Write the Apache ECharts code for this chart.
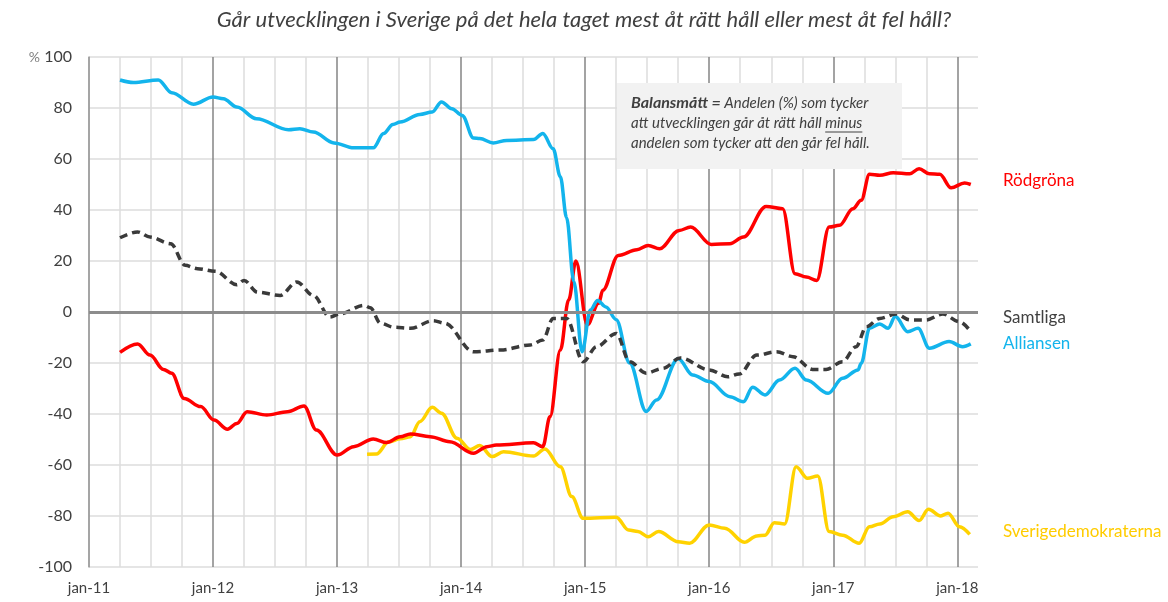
<!DOCTYPE html>
<html>
<head>
<meta charset="utf-8">
<script src="https://cdn.jsdelivr.net/npm/echarts@6/dist/echarts.min.js"></script>
<style>
  html, body { margin: 0; padding: 0; background: #fff; }
  #chart { width: 1168px; height: 602px; }
</style>
</head>
<body>
<div id="chart"></div>
<script>
// x = months since jan-11, y = balansmått (%)
const yearLabels = ['jan-11', 'jan-12', 'jan-13', 'jan-14', 'jan-15', 'jan-16', 'jan-17', 'jan-18']

const rodgrona = [[3,-15.8],[4.7,-12.5],[5.9,-16.9],[7.2,-22.5],[8,-24],[9.2,-33.9],[10.8,-37.1],[12.1,-42.4],[13.4,-46],[14.3,-43.7],[15.3,-39.1],[17.2,-40.4],[19.2,-39.1],[20.8,-36.9],[22,-46.3],[24,-56.1],[25.6,-52.8],[27.5,-49.8],[28.8,-51.2],[30.1,-48.9],[31.1,-47.8],[33,-48.9],[34.9,-50.9],[37.2,-55.4],[38.5,-52.8],[39.4,-52.2],[43,-51.3],[43.9,-52.8],[44.6,-41],[45.6,-14.9],[46.4,4.7],[47.1,20],[48.2,-5],[49.3,3.4],[49.7,8.5],[51.2,22.2],[53,24.4],[54.1,26.1],[55.2,24.8],[57.1,32],[58.2,33.3],[60.2,26.5],[62,26.8],[63.3,29.4],[65.5,41.4],[67.1,40.5],[68.3,15],[69.4,13.7],[70.4,12.4],[71.6,33.3],[72.6,34],[73.9,40.5],[74.7,43.8],[75.5,54],[76.5,53.6],[77.8,54.6],[79.4,54.2],[80.3,56.2],[81.3,54.2],[82.3,54],[83.4,48.7],[84.7,50.6],[85.3,50]]

const samtliga = [[3,29.1],[4.7,31.4],[5.9,29.4],[7.9,26.8],[9.3,18.3],[10.5,17],[12.2,16],[14.3,10.7],[15,12.4],[16.3,7.8],[18.5,6.5],[20.1,11.8],[21.7,6.5],[23.3,-2],[24.3,-0.7],[26.6,2.6],[27.2,1.7],[28.2,-4.4],[29.5,-6],[31.1,-6.4],[33.3,-3.4],[34.4,-4.4],[37.2,-15.6],[39.8,-14.9],[42.7,-12.9],[43.9,-11],[44.9,-2.5],[46.2,-2.5],[47.8,-19.5],[49.1,-13.6],[51,-8.4],[52.3,-19.5],[53.9,-24],[55.5,-22.1],[57.2,-18],[60,-22.7],[61.8,-25.4],[62.9,-24.3],[64.6,-16.9],[66.5,-15.6],[68.1,-17.5],[70,-22.5],[71.3,-22.5],[72.9,-19.5],[74.2,-13.6],[75.2,-5.8],[76.5,-2.5],[78.1,-0.8],[79.4,-3.1],[81,-3.1],[82.6,-0.8],[84.2,-3.8],[85.3,-7.7]]

const alliansen = [[3,91],[4.3,90],[6.7,91],[8,86],[10.1,81.5],[12,84.3],[13,83.6],[14.3,80.4],[16.2,75.8],[19.3,71.5],[20.4,71.9],[21.7,70.6],[23.7,66.3],[25.6,64.4],[27.5,64.4],[28.5,70],[29.4,73.5],[30.1,74.5],[32,77.5],[33.2,78.4],[34.1,82.4],[35.1,79.7],[36.1,77.1],[37.2,68.2],[37.8,68],[39.1,66.3],[40.4,67.3],[43,67.6],[43.9,70],[44.9,64],[45.6,53],[46.2,37],[46.9,12],[47.7,-15.6],[48.5,0.8],[49.2,4.5],[50,2],[51,-3],[52.3,-20],[53.9,-39],[54.9,-34.5],[57,-18.3],[58.4,-24.7],[60,-27.3],[62,-33.2],[63.3,-35.2],[64.2,-29.5],[65.4,-32.5],[66.8,-26.7],[68.3,-22.1],[69.4,-26.7],[71.5,-31.9],[72.9,-26],[74.4,-22.7],[74.7,-20.1],[75.5,-6.4],[76.5,-4.7],[77.3,-6.4],[78,-1.8],[79.2,-7.7],[80.2,-6.4],[81.3,-14.2],[83.2,-11.6],[84.5,-13.6],[85.3,-12.5]]

const sverigedemokraterna = [[26.9,-55.8],[27.8,-55.7],[29,-50.9],[30.1,-49.7],[31.1,-48.9],[32,-43],[33.2,-37.4],[34.1,-39.7],[35.6,-49.5],[36.9,-53.9],[37.8,-52.4],[39,-56.7],[40.1,-54.8],[43,-56.5],[44.1,-53.7],[45.6,-60.7],[46.7,-72.4],[47.8,-80.9],[51,-80.5],[52.2,-85.5],[53.1,-86.1],[54.1,-88.1],[55.1,-86.1],[57,-90.1],[58.1,-90.7],[60,-83.5],[61.5,-84.8],[63.4,-90.3],[64.6,-87.8],[65.4,-87.5],[66.3,-82.6],[67.3,-83.1],[68.4,-60.7],[69.5,-65.2],[70.5,-64.3],[71.6,-86.1],[72.9,-87.5],[74.5,-90.7],[75.5,-84.2],[76.5,-83.1],[77.8,-80.3],[79.2,-78.3],[80.3,-81.8],[81.2,-77.4],[82.4,-80],[83.1,-78.9],[84.2,-84.2],[85.2,-87.2]]

const font = 'Lato'
const textColor = '#404040'
const noteFont = 'italic 15px ' + font

// measure note text so "minus" can be underlined
const ctx = document.createElement('canvas').getContext('2d')
ctx.font = noteFont
const line2a = 'att utvecklingen går åt rätt håll '
const w2a = ctx.measureText(line2a).width
const wMinus = ctx.measureText('minus').width

const noteX = 631

function line(data, color, dashed) {
  return {
    type: 'line',
    data: data,
    showSymbol: false,
    smooth: 0.35,
    smoothMonotone: 'x',
    silent: true,
    lineStyle: {
      color: color,
      width: 3.5,
      type: dashed ? [8, 5] : 'solid'
    }
  }
}

const chart = echarts.init(document.getElementById('chart'))

const option = {
  animation: false,
  backgroundColor: '#fff',
  textStyle: { fontFamily: font },
  title: {
    text: 'Går utvecklingen i Sverige på det hela taget mest åt rätt håll eller mest åt fel håll?',
    left: 'center',
    top: 4,
    textStyle: { fontFamily: font, fontStyle: 'italic', fontWeight: 'normal', fontSize: 22, color: textColor }
  },
  grid: { left: 89, right: 190, top: 57, bottom: 35 },
  xAxis: {
    type: 'value',
    min: 0,
    max: 86,
    interval: 3,
    axisLine: { show: false },
    axisTick: { show: false },
    axisLabel: {
      fontSize: 15,
      color: textColor,
      margin: 14,
      showMaxLabel: false,
      formatter: v => (v % 12 === 0 ? yearLabels[v / 12] : '')
    },
    splitLine: {
      show: true,
      showMaxLine: false,
      lineStyle: { color: ['#858585', '#dcdcdc', '#dcdcdc', '#dcdcdc'], width: 1.5 }
    }
  },
  yAxis: {
    type: 'value',
    min: -100,
    max: 100,
    interval: 20,
    axisLine: { show: true, lineStyle: { color: '#a6a6a6', width: 1.5 } },
    axisTick: { show: false },
    axisLabel: {
      fontSize: 16,
      color: textColor,
      margin: 17,
      formatter: v => (v === 100 ? '{p|%} 100' : String(v)),
      rich: { p: { fontSize: 14, color: '#808080', fontFamily: font } }
    },
    splitLine: { lineStyle: { color: '#dcdcdc', width: 1.5 } }
  },
  series: [
    Object.assign(line(sverigedemokraterna, '#ffd200', false), {
      name: 'Sverigedemokraterna',
      markLine: {
        silent: true,
        symbol: 'none',
        label: { show: false },
        lineStyle: { color: '#8c8c8c', width: 3, type: 'solid' },
        data: [{ yAxis: 0 }]
      }
    }),
    Object.assign(line(rodgrona, '#ff0000', false), { name: 'Rödgröna' }),
    Object.assign(line(alliansen, '#13b4ec', false), { name: 'Alliansen' }),
    Object.assign(line(samtliga, '#3a3a3a', true), { name: 'Samtliga' })
  ],
  graphic: [
    { type: 'rect', left: 617, top: 83, shape: { width: 285, height: 86 }, style: { fill: '#f2f2f2' }, z: 50 },
    {
      type: 'text', left: noteX, top: 95, z: 51,
      style: {
        text: '{b|Balansmått =} {i|Andelen (%) som tycker}',
        rich: {
          b: { fontFamily: font, fontStyle: 'italic', fontWeight: 'bold', fontSize: 16, fill: textColor },
          i: { fontFamily: font, fontStyle: 'italic', fontSize: 15, fill: textColor }
        }
      }
    },
    { type: 'text', left: noteX, top: 116, z: 51, style: { text: line2a, font: noteFont, fill: textColor } },
    { type: 'text', left: noteX + w2a, top: 116, z: 51, style: { text: 'minus', font: noteFont, fill: textColor } },
    { type: 'line', z: 51, shape: { x1: noteX + w2a, y1: 132, x2: noteX + w2a + wMinus, y2: 132 }, style: { stroke: textColor, lineWidth: 1 } },
    { type: 'text', left: noteX, top: 136, z: 51, style: { text: 'andelen som tycker att den går fel håll.', font: noteFont, fill: textColor } },
    { type: 'text', left: 1003, top: 172, style: { text: 'Rödgröna', font: '17px ' + font, fill: '#ff0000' } },
    { type: 'text', left: 1003, top: 309, style: { text: 'Samtliga', font: '17px ' + font, fill: '#404040' } },
    { type: 'text', left: 1003, top: 335, style: { text: 'Alliansen', font: '17px ' + font, fill: '#13b4ec' } },
    { type: 'text', left: 1003, top: 523, style: { text: 'Sverigedemokraterna', font: '17px ' + font, fill: '#ffcc00' } }
  ]
}

chart.setOption(option)
</script>
</body>
</html>
